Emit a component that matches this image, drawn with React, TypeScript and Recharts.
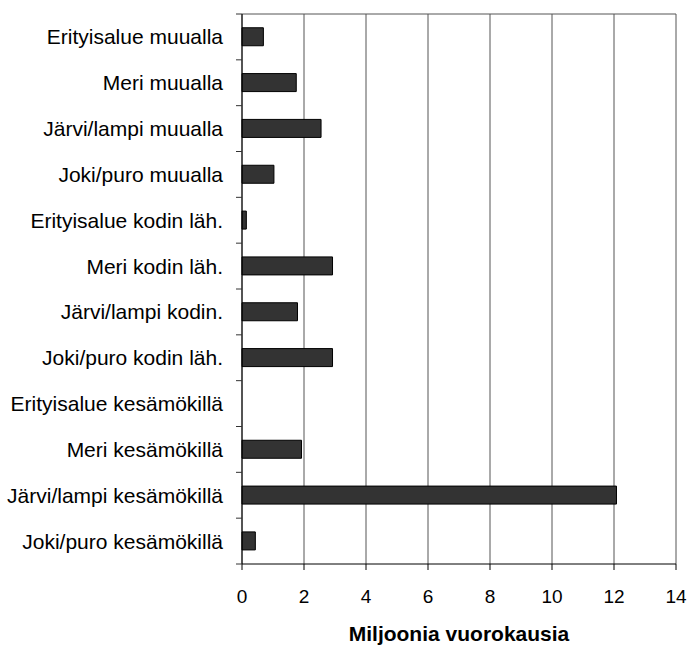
import React from "react";
import { BarChart, Bar, XAxis, YAxis, CartesianGrid, Label } from "recharts";

const categories = [
  "Erityisalue muualla",
  "Meri muualla",
  "Järvi/lampi muualla",
  "Joki/puro muualla",
  "Erityisalue kodin läh.",
  "Meri kodin läh.",
  "Järvi/lampi kodin.",
  "Joki/puro kodin läh.",
  "Erityisalue kesämökillä",
  "Meri kesämökillä",
  "Järvi/lampi kesämökillä",
  "Joki/puro kesämökillä",
];
const values = [0.69, 1.75, 2.55, 1.03, 0.14, 2.92, 1.79, 2.92, 0, 1.92, 12.08, 0.43];
const xTicks = [0, 2, 4, 6, 8, 10, 12, 14];

const data = categories.map((name, i) => ({ name, value: values[i] }));

const W = 689;
const H = 646;
const M = { top: 14, right: 13, bottom: 0, left: 0 };
const Y_W = 242;
const X_H = 82;
const plotH = H - M.top - M.bottom - X_H;
const band = plotH / categories.length;
const FONT = '"Liberation Sans", Arial, Helvetica, sans-serif';

const CatTick = (props: any) => {
  const { x, y, payload, index } = props;
  const axisX = M.left + Y_W;
  return (
    <g>
      <text
        x={x}
        y={y}
        dy="0.355em"
        textAnchor="end"
        fill="#000"
        fontSize={21}
        fontFamily={FONT}
      >
        {payload.value}
      </text>
      <line x1={axisX - 6} x2={axisX} y1={y + band / 2} y2={y + band / 2} stroke="#333" />
      {index === 0 && (
        <line x1={axisX - 6} x2={axisX} y1={y - band / 2} y2={y - band / 2} stroke="#333" />
      )}
    </g>
  );
};

export default function App() {
  return (
    <div style={{ position: "absolute", left: 0, top: 0, background: "#fff" }}>
      <BarChart
        width={W}
        height={H}
        layout="vertical"
        data={data}
        margin={M}
        barCategoryGap="30%"
        style={{ fontFamily: FONT }}
      >
        <CartesianGrid
          stroke="#555"
          vertical={true}
          horizontal={true}
          horizontalCoordinatesGenerator={({ offset }: any) => [offset.top]}
        />
        <XAxis
          type="number"
          domain={[0, 14]}
          ticks={xTicks}
          height={X_H}
          tickSize={6}
          tickMargin={20}
          stroke="#000"
          tick={{ fill: "#000", fontSize: 19, fontFamily: FONT }}
          interval={0}
        >
          <Label
            value="Miljoonia vuorokausia"
            position="insideBottom"
            offset={5}
            fill="#000"
            fontSize={21}
            fontWeight="bold"
            fontFamily={FONT}
          />
        </XAxis>
        <YAxis
          type="category"
          dataKey="name"
          width={Y_W}
          stroke="#000"
          tickLine={false}
          tickSize={6}
          tickMargin={13}
          interval={0}
          tick={CatTick}
        />
        <Bar dataKey="value" fill="#333333" stroke="#000" strokeWidth={1} isAnimationActive={false} />
      </BarChart>
    </div>
  );
}
